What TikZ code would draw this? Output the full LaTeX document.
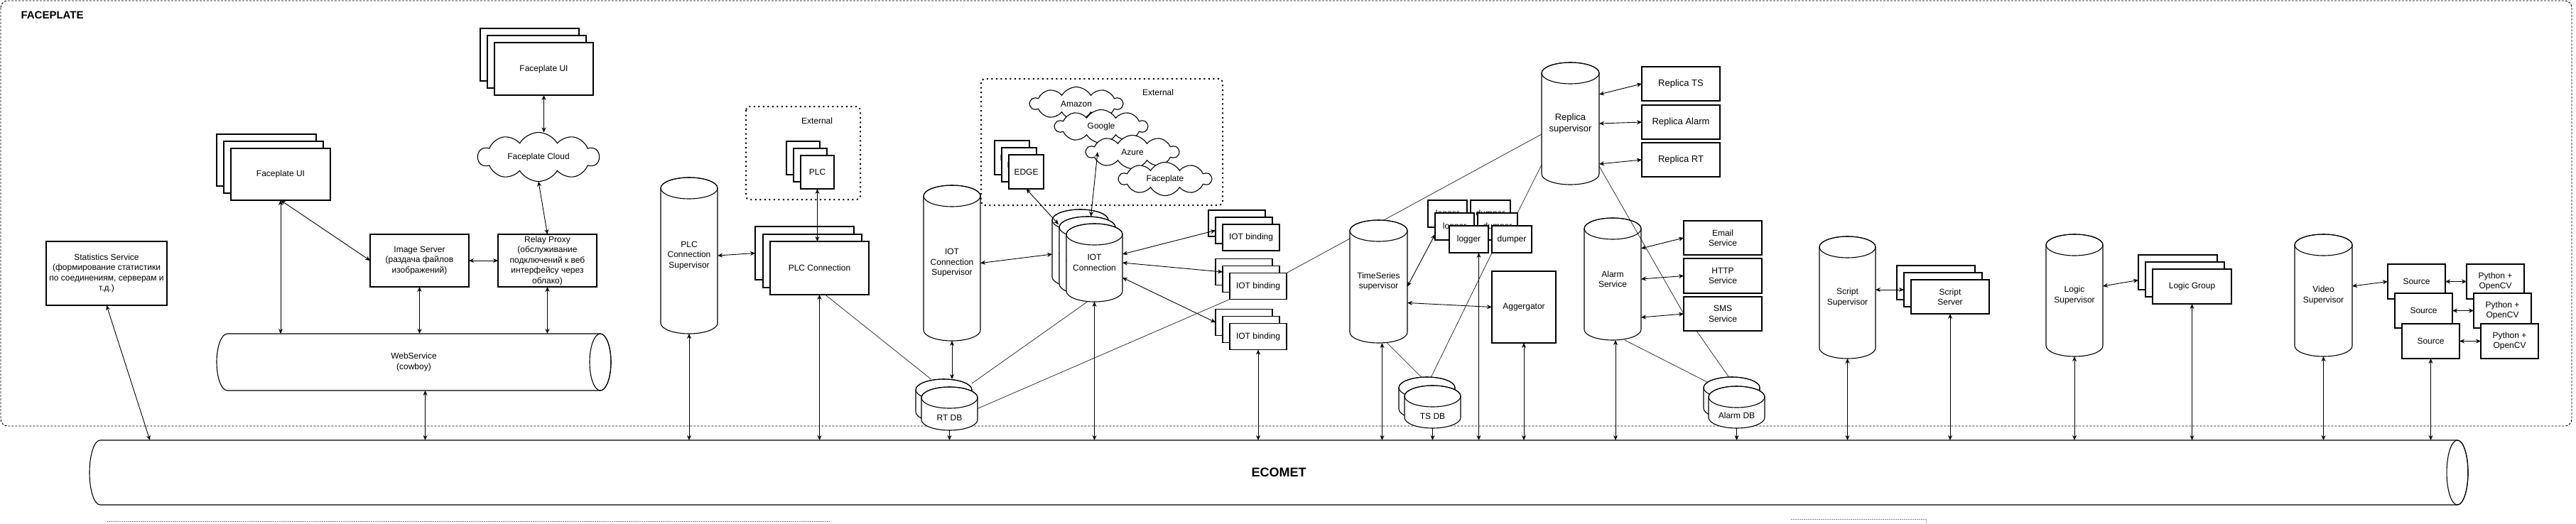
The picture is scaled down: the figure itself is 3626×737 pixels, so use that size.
\documentclass[tikz,border=0pt]{standalone}
\usepackage{fontspec}
\setmainfont{Liberation Sans}
\usetikzlibrary{arrows.meta,shapes.symbols}

\newcommand{\boxfont}{\fontsize{12}{14.5}\selectfont}
\newcommand{\repfont}{\fontsize{13}{15.5}\selectfont}

\tikzset{
  svcbox/.style={draw=black, line width=1.1pt, fill=white, inner sep=1pt, outer sep=0pt, align=center, font=\boxfont},
  drumshape/.style={inner sep=0pt, outer sep=0pt},
  drumtext/.style={inner sep=0pt, align=center, font=\boxfont},
  drumrim/.style={draw=black, line width=1.1pt},
  cloudnode/.style={cloud, cloud puffs=10, cloud puff arc=120, cloud ignores aspect, draw=black, line width=1.1pt, fill=white, inner sep=0pt, outer sep=0pt, font=\boxfont},
  extframe/.style={draw=black, line width=2pt, dash pattern=on 2pt off 4.5pt, rounded corners=5pt},
  twoway/.style={arrows={Stealth[length=7pt,width=6pt]-Stealth[length=7pt,width=6pt]}, line width=0.9pt},
  oneway/.style={arrows={-Stealth[length=7pt,width=6pt]}, line width=0.9pt},
  plainline/.style={line width=0.6pt},
}

% upright drum: [text options]{name}{centre}{width}{height}{text}
\newcommand{\vdrum}[6][]{%
  \node[drumshape, minimum width=#4, minimum height=#5] (#2) at (#3) {};
  \filldraw[drumrim, fill=white] ([yshift=-15pt]#2.north west) -- ([yshift=15pt]#2.south west)
    arc[start angle=180, end angle=360, x radius=#4/2, y radius=15pt]
    -- ([yshift=-15pt]#2.north east)
    arc[start angle=0, end angle=180, x radius=#4/2, y radius=15pt] -- cycle;
  \draw[drumrim] ([yshift=-15pt]#2.north) ellipse[x radius=#4/2, y radius=15pt];
  \node[drumtext, #1] (#2-t) at (#2.center) {#6};
}
% lying drum
\newcommand{\hdrum}[6][]{%
  \node[drumshape, minimum width=#4, minimum height=#5] (#2) at (#3) {};
  \filldraw[drumrim, fill=white] ([xshift=-15pt]#2.north east) -- ([xshift=15pt]#2.north west)
    arc[start angle=90, end angle=270, x radius=15pt, y radius=#5/2]
    -- ([xshift=-15pt]#2.south east)
    arc[start angle=270, end angle=450, x radius=15pt, y radius=#5/2] -- cycle;
  \draw[drumrim] ([xshift=-15pt]#2.east) ellipse[x radius=15pt, y radius=#5/2];
  \node[drumtext, #1] (#2-t) at (#2.center) {#6};
}

\begin{document}
\begin{tikzpicture}[x=1pt, y=-1pt]
\useasboundingbox (0,0) rectangle (3626,737);

\draw[line width=0.9pt, dash pattern=on 3pt off 2pt, rounded corners=10pt] (1,1) rectangle (3620,600);
\node[anchor=west, font=\bfseries\fontsize{15}{17}\selectfont] (fptitle) at (26,21) {FACEPLATE};

\draw[gray, line width=0.8pt, dash pattern=on 2pt off 1pt] (150,734) -- (1169,734);
\draw[gray, line width=0.8pt, dash pattern=on 2pt off 1pt] (2521,731) -- (2711,731) -- (2711,737);

% web
\foreach \d in {20,10}
  \node[svcbox, minimum width=139pt, minimum height=74pt] (uicloud\d) at (765.5-\d,97-\d) {Faceplate UI};
\node[svcbox, minimum width=139pt, minimum height=74pt] (uicloud) at (765.5,97) {Faceplate UI};
\node[cloudnode, minimum width=170pt, minimum height=69pt] (fpcloud) at (758,221) {Faceplate Cloud};
\foreach \d in {20,10}
  \node[svcbox, minimum width=140pt, minimum height=73pt] (uilocal\d) at (395-\d,245.5-\d) {Faceplate UI};
\node[svcbox, minimum width=140pt, minimum height=73pt] (uilocal) at (395,245.5) {Faceplate UI};
\node[svcbox, minimum width=139pt, minimum height=74pt] (imgsrv) at (590.5,367) {Image Server\\(раздача файлов\\изображений)};
\node[svcbox, minimum width=139pt, minimum height=74pt] (relay) at (770.5,367) {Relay Proxy\\(обслуживание\\подключений к веб\\интерфейсу через\\облако)};
\node[svcbox, minimum width=170pt, minimum height=90pt] (stats) at (150,385) {Statistics Service\\(формирование статистики\\по соединениям, серверам и\\т.д.)};
\hdrum{websvc}{582.5,510}{555pt}{80pt}{WebService\\(cowboy)}
\hdrum{ecomet}{1800,665.5}{3348pt}{91pt}{\bfseries\fontsize{18}{20}\selectfont ECOMET}

% plc
\vdrum{plcsup}{970,360}{80pt}{220pt}{PLC\\Connection\\Supervisor}
\draw[extframe] (1050,150) rectangle (1211,281);
\node[font=\boxfont] (plcext) at (1150,170) {External};
\foreach \d in {20,10}
  \node[svcbox, minimum width=47pt, minimum height=47pt] (plc\d) at (1150.5-\d,242.5-\d) {PLC};
\node[svcbox, minimum width=47pt, minimum height=47pt] (plc) at (1150.5,242.5) {PLC};
\foreach \d in {21,10}
  \node[svcbox, minimum width=139pt, minimum height=75pt] (plcconn\d) at (1153.5-\d,377.5-\d) {PLC Connection};
\node[svcbox, minimum width=139pt, minimum height=75pt] (plcconn) at (1153.5,377.5) {PLC Connection};

% iot
\vdrum{iotsup}{1340,370.5}{80pt}{219pt}{IOT\\Connection\\Supervisor}
\draw[extframe] (1381,111) rectangle (1721,289);
\node[font=\boxfont] (iotext) at (1630,130) {External};
\node[cloudnode, minimum width=130pt, minimum height=47pt] (amazon) at (1515,146) {Amazon};
\node[cloudnode, minimum width=130pt, minimum height=47pt] (google) at (1550,178) {Google};
\node[cloudnode, minimum width=130pt, minimum height=47pt] (azure) at (1594,214) {Azure};
\node[cloudnode, minimum width=130pt, minimum height=47pt] (fpcloudext) at (1640,252) {Faceplate};
\foreach \d in {20,10}
  \node[svcbox, minimum width=49pt, minimum height=48pt] (edgebox\d) at (1444.5-\d,242-\d) {EDGE};
\node[svcbox, minimum width=49pt, minimum height=48pt] (edgebox) at (1444.5,242) {EDGE};
\foreach \d in {20,10} {
  \vdrum{iotconn\d}{1540.5-\d,370-\d}{79pt}{110pt}{IOT\\Connection}
}
\vdrum{iotconn}{1540.5,370}{79pt}{110pt}{IOT\\Connection}
\foreach \n/\x/\y in {1/1761/334.5, 2/1771/403, 3/1771/474} {
  \foreach \d in {20,10}
    \node[svcbox, minimum width=80pt, minimum height=37pt] (bind\n-\d) at (\x-\d,\y-\d) {IOT binding};
  \node[svcbox, minimum width=80pt, minimum height=37pt] (bind\n) at (\x,\y) {IOT binding};
}
\vdrum{rtdbA}{1328.5,564.5}{79pt}{61pt}{}
\vdrum[yshift=-13pt]{rtdb}{1336.5,575.5}{79pt}{61pt}{RT DB}

% replica
\vdrum[font=\repfont]{replica}{2210.5,174}{81pt}{172pt}{Replica\\supervisor}
\node[svcbox, font=\repfont, minimum width=110pt, minimum height=48pt] (repts) at (2366,118) {Replica TS};
\node[svcbox, font=\repfont, minimum width=110pt, minimum height=48pt] (repalarm) at (2366,172) {Replica Alarm};
\node[svcbox, font=\repfont, minimum width=110pt, minimum height=48pt] (reprt) at (2366,225) {Replica RT};
\draw[plainline] (bind2.north east) -- ([yshift=-15pt]replica.west);

% timeseries
\vdrum{tssup}{1940.5,396.5}{81pt}{173pt}{TimeSeries\\supervisor}
\foreach \dx/\dy/\l in {30/36/a, 20/18/b} {
  \node[svcbox, minimum width=55pt, minimum height=38pt] (logger\l) at (2067.5-\dx,337-\dy) {logger};
  \node[svcbox, minimum width=56pt, minimum height=38pt] (dumper\l) at (2128-\dx,337-\dy) {dumper};
}
\node[svcbox, minimum width=55pt, minimum height=38pt] (logger) at (2067.5,337) {logger};
\node[svcbox, minimum width=56pt, minimum height=38pt] (dumper) at (2128,337) {dumper};
\node[svcbox, minimum width=90pt, minimum height=101pt] (aggr) at (2145,432.5) {Aggergator};
\vdrum{tsdbA}{2008.5,561}{79pt}{60pt}{}
\vdrum[yshift=-13pt]{tsdb}{2016.5,573}{79pt}{60pt}{TS DB}

% alarms
\vdrum{alarm}{2270,393}{80pt}{172pt}{Alarm\\Service}
\node[svcbox, minimum width=110pt, minimum height=48pt] (email) at (2425,335) {Email\\Service};
\node[svcbox, minimum width=110pt, minimum height=49pt] (http) at (2425,388.5) {HTTP\\Service};
\node[svcbox, minimum width=110pt, minimum height=48pt] (sms) at (2425,442) {SMS\\Service};
\vdrum{alarmdbA}{2437.5,560.5}{79pt}{59pt}{}
\vdrum[yshift=-12pt]{alarmdb}{2444.5,573.5}{79pt}{59pt}{Alarm DB}

% scripts, logic, video
\vdrum{scriptsup}{2600.5,419}{79pt}{172pt}{Script\\Supervisor}
\foreach \d in {20,10}
  \node[svcbox, minimum width=110pt, minimum height=48pt] (scriptsrv\d) at (2745-\d,418-\d) {Script\\Server};
\node[svcbox, minimum width=110pt, minimum height=48pt] (scriptsrv) at (2745,418) {Script\\Server};
\vdrum{logicsup}{2920,416}{80pt}{172pt}{Logic\\Supervisor}
\foreach \d in {20,10}
  \node[svcbox, minimum width=111pt, minimum height=49pt] (logicgrp\d) at (3085.5-\d,403.5-\d) {Logic Group};
\node[svcbox, minimum width=111pt, minimum height=49pt] (logicgrp) at (3085.5,403.5) {Logic Group};
\vdrum{videosup}{3270.5,416}{81pt}{172pt}{Video\\Supervisor}
\foreach \n/\x/\y in {1/3401.5/396.5, 2/3411.5/437.5, 3/3421.5/480.5} {
  \node[svcbox, minimum width=81pt, minimum height=49pt] (source\n) at (\x,\y) {Source};
  \node[svcbox, minimum width=81pt, minimum height=49pt] (python\n) at (\x+111,\y) {Python +\\OpenCV};
}

% links
\draw[twoway] (uicloud.south) -- (uicloud.south |- fpcloud.north);
\draw[twoway] (fpcloud.south) -- (relay.north);
\draw[twoway] (uilocal.south) -- (uilocal.south |- websvc.north);
\draw[twoway] (uilocal.south) -- (imgsrv.west);
\draw[twoway] (imgsrv.east) -- (relay.west);
\draw[twoway] (imgsrv.south) -- (imgsrv.south |- websvc.north);
\draw[twoway] (relay.south) -- (relay.south |- websvc.north);
\coordinate (wsdrop) at ([xshift=16pt]websvc.south);
\draw[twoway] (wsdrop) -- (wsdrop |- ecomet.north);
\draw[twoway] (stats.south) -- ([xshift=85pt]ecomet.north west);

\draw[twoway] (plcsup.east) -- (plcconn21.west);
\draw[twoway] (plc.south) -- (plc.south |- plcconn.north);
\draw[twoway] (plcsup.south) -- (plcsup.south |- ecomet.north);
\draw[twoway] (plcconn.south) -- (plcconn.south |- ecomet.north);
\draw[plainline] ([xshift=8pt]plcconn.south) -- ([xshift=-18pt]rtdbA.north);

\draw[twoway] (iotsup.south) -- (iotsup.south |- rtdbA.north);
\draw[oneway] (rtdb.south) -- (rtdb.south |- ecomet.north);
\draw[twoway] (iotsup.east) -- ([yshift=-8pt]iotconn20.west);
\draw[twoway] (edgebox.south) -- ([xshift=9pt,yshift=-21pt]iotconn20.north west);
\draw[twoway] ([xshift=-49pt]azure.center) -- ([xshift=5pt]iotconn10.north);
\draw[twoway] ([yshift=12pt]iotconn.east) -- (bind1-10.west);
\draw[twoway] (iotconn.east) -- ([yshift=10pt]bind2-10.west);
\draw[twoway] ([yshift=-21pt]iotconn.east) -- (bind3-20.west);
\draw[twoway] (iotconn.south) -- (iotconn.south |- ecomet.north);
\draw[twoway] (bind3.south) -- (bind3.south |- ecomet.north);
\draw[plainline] ([xshift=-10pt]iotconn.south) -- ([yshift=-6pt]rtdbA.north east);
\draw[plainline] (bind2.south west) -- (rtdb.east);

\draw[twoway] ([yshift=41pt]replica.east) -- (repts.west);
\draw[twoway] (replica.east) -- (repalarm.west);
\draw[twoway] ([yshift=-57pt]replica.east) -- (reprt.west);
\draw[plainline] ([yshift=-58pt]replica.west) -- (dumperb.north east);
\draw[plainline] ([yshift=-60pt]replica.east) -- (sms.west);

\draw[twoway] ([yshift=-7pt]tssup.east) -- ([yshift=-11pt]loggerb.west);
\draw[twoway] ([yshift=-30pt]tssup.east) -- (aggr.west);
\coordinate (tsdrop) at ([xshift=5pt]tssup.south);
\draw[twoway] (tsdrop) -- (tsdrop |- ecomet.north);
\draw[plainline] ([xshift=12pt]tssup.south) -- ([xshift=-8pt]tsdbA.north);
\draw[plainline] (dumper.south west) -- ([xshift=6pt]tsdbA.north);
\coordinate (logdrop) at ([xshift=14pt]logger.south);
\draw[twoway] (logdrop) -- (logdrop |- ecomet.north);
\draw[twoway] (aggr.south) -- (aggr.south |- ecomet.north);
\draw[oneway] (tsdb.south) -- (tsdb.south |- ecomet.north);

\draw[twoway] ([yshift=43pt]alarm.east) -- (email.west);
\draw[twoway] (alarm.east) -- (http.west);
\draw[twoway] ([yshift=-54pt]alarm.east) -- (sms.west);
\coordinate (alarmdrop) at ([xshift=4pt]alarm.south);
\draw[twoway] (alarmdrop) -- (alarmdrop |- ecomet.north);
\draw[plainline] ([xshift=17pt]alarm.south) -- ([xshift=5pt,yshift=-7pt]alarmdbA.north west);
\draw[plainline] ([xshift=-37pt]sms.south) -- ([xshift=-4pt]alarmdbA.north);
\draw[oneway] (alarmdb.south) -- (alarmdb.south |- ecomet.north);

\draw[twoway] ([yshift=11pt]scriptsup.east) -- (scriptsrv10.west);
\draw[twoway] (scriptsup.south) -- (scriptsup.south |- ecomet.north);
\draw[twoway] (scriptsrv.south) -- (scriptsrv.south |- ecomet.north);
\draw[twoway] ([yshift=13pt]logicsup.east) -- ([yshift=-11pt]logicgrp20.west);
\draw[twoway] (logicsup.south) -- (logicsup.south |- ecomet.north);
\draw[twoway] (logicgrp.south) -- (logicgrp.south |- ecomet.north);
\draw[twoway] ([yshift=13pt]videosup.east) -- (source1.west);
\foreach \n in {1,2,3}
  \draw[twoway] (source\n.east) -- (python\n.west);
\draw[twoway] (videosup.south) -- (videosup.south |- ecomet.north);
\draw[twoway] (source3.south) -- (source3.south |- ecomet.north);
\end{tikzpicture}
\end{document}
